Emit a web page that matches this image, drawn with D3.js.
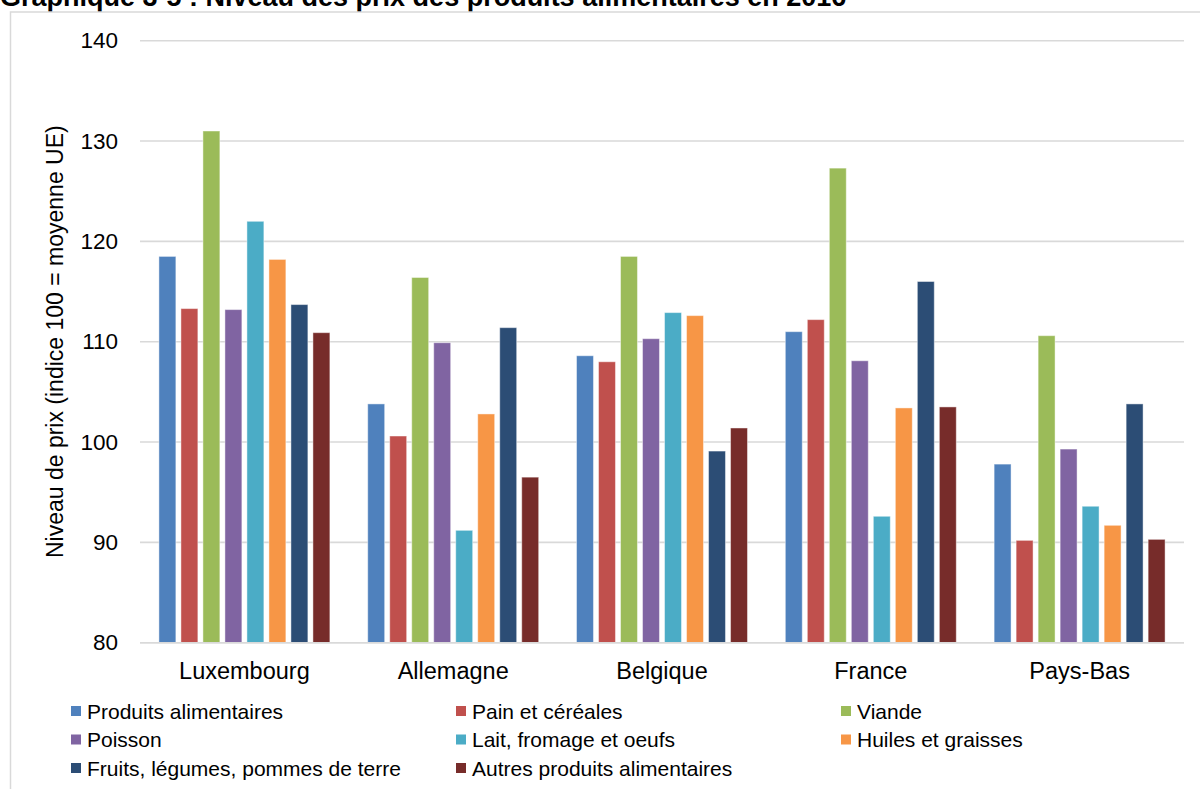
<!DOCTYPE html>
<html lang="fr">
<head>
<meta charset="utf-8">
<script src="https://cdn.jsdelivr.net/npm/d3@7"></script>
<style>
  html, body { margin: 0; padding: 0; background: #fff; }
  svg { display: block; font-family: "Liberation Sans", Arial, sans-serif; }
</style>
</head>
<body>
<svg id="chart" width="1200" height="789"></svg>
<script>
// Niveau des prix des produits alimentaires (indice 100 = moyenne UE)
const categories = ["Luxembourg", "Allemagne", "Belgique", "France", "Pays-Bas"];

const seriesNames = [
  "Produits alimentaires",
  "Pain et céréales",
  "Viande",
  "Poisson",
  "Lait, fromage et oeufs",
  "Huiles et graisses",
  "Fruits, légumes, pommes de terre",
  "Autres produits alimentaires"
];

const produitsAlimentaires = [118.5, 103.8, 108.6, 111.0, 97.8];
const painCereales        = [113.3, 100.6, 108.0, 112.2, 90.2];
const viande              = [131.0, 116.4, 118.5, 127.3, 110.6];
const poisson             = [113.2, 109.9, 110.3, 108.1, 99.3];
const laitFromageOeufs    = [122.0, 91.2, 112.9, 92.6, 93.6];
const huilesGraisses      = [118.2, 102.8, 112.6, 103.4, 91.7];
const fruitsLegumes       = [113.7, 111.4, 99.1, 116.0, 103.8];
const autresProduits      = [110.9, 96.5, 101.4, 103.5, 90.3];

const yTicks = [80, 90, 100, 110, 120, 130, 140];

const colors = ["#4F81BD", "#C0504D", "#9BBB59", "#8064A2",
                "#4BACC6", "#F79646", "#2C4D75", "#772C2A"];

const seriesValues = [produitsAlimentaires, painCereales, viande, poisson,
                      laitFromageOeufs, huilesGraisses, fruitsLegumes, autresProduits];

const table = categories.map((c, i) => ({
  category: c,
  values: seriesNames.map((s, j) => ({ series: s, value: seriesValues[j][i], color: colors[j] }))
}));

const svg = d3.select("#chart");

// Title (partly above the visible area)
svg.append("text")
  .attr("x", 0).attr("y", 6)
  .attr("font-size", 27).attr("font-weight", "bold").attr("fill", "#000")
  .text("Graphique 3-5 : Niveau des prix des produits alimentaires en 2016");

// Chart frame
svg.append("rect")
  .attr("x", 10.5).attr("y", 12).attr("width", 1200).attr("height", 800)
  .attr("fill", "none").attr("stroke", "#d9d9d9").attr("stroke-width", 1.5);

const plot = { left: 140, right: 1184, top: 40.7, bottom: 642.7 };

const y = d3.scaleLinear().domain([80, 140]).range([plot.bottom, plot.top]);
const x0 = d3.scaleBand().domain(categories).range([plot.left, plot.right]).padding(0);
const x1 = d3.scaleBand().domain(seriesNames).range([0, x0.bandwidth()])
  .paddingInner(0.23).paddingOuter(0.86);

// Gridlines
const grid = svg.append("g");
grid.selectAll("line").data(yTicks).join("line")
  .attr("x1", plot.left).attr("x2", plot.right)
  .attr("y1", d => y(d)).attr("y2", d => y(d))
  .attr("stroke", "#d9d9d9").attr("stroke-width", 1.6);

// Y axis labels
const yAxis = svg.append("g")
  .attr("transform", `translate(${plot.left},0)`)
  .call(d3.axisLeft(y).tickValues(yTicks).tickSize(0).tickPadding(22));
yAxis.select(".domain").remove();
yAxis.selectAll("text")
  .attr("font-size", 22.5).attr("fill", "#000")
  .attr("font-family", "Liberation Sans, Arial, sans-serif");

// Bars
const groups = svg.append("g").selectAll("g").data(table).join("g")
  .attr("transform", d => `translate(${x0(d.category)},0)`);
groups.selectAll("rect").data(d => d.values).join("rect")
  .attr("x", d => x1(d.series))
  .attr("width", x1.bandwidth())
  .attr("y", d => y(d.value))
  .attr("height", d => y(80) - y(d.value))
  .attr("fill", d => d.color)
  .attr("stroke", "#ffffff").attr("stroke-opacity", 0.45).attr("stroke-width", 1);

// Base line at 80 drawn over the bars
svg.append("line")
  .attr("x1", plot.left).attr("x2", plot.right)
  .attr("y1", y(80)).attr("y2", y(80))
  .attr("stroke", "#d9d9d9").attr("stroke-width", 1.6);

// X axis labels
const xAxis = svg.append("g")
  .attr("transform", `translate(0,${plot.bottom})`)
  .call(d3.axisBottom(x0).tickSize(0).tickPadding(20));
xAxis.select(".domain").remove();
xAxis.selectAll("text")
  .attr("font-size", 23.5).attr("fill", "#000")
  .attr("font-family", "Liberation Sans, Arial, sans-serif");

// Y axis title
svg.append("text")
  .attr("transform", `translate(63,${(plot.top + plot.bottom) / 2}) rotate(-90)`)
  .attr("text-anchor", "middle")
  .attr("font-size", 23).attr("fill", "#000")
  .text("Niveau de prix (indice 100 = moyenne UE)");

// Legend: three columns
const legend = svg.append("g");
const items = legend.selectAll("g").data(seriesNames).join("g")
  .attr("transform", (d, i) => `translate(${71 + (i % 3) * 385},${711 + Math.floor(i / 3) * 28.5})`);
items.append("rect")
  .attr("x", 0).attr("y", -5).attr("width", 10).attr("height", 10)
  .attr("fill", (d, i) => colors[i]);
items.append("text")
  .attr("x", 16).attr("y", 0).attr("dy", "0.36em")
  .attr("font-size", 21).attr("fill", "#000")
  .text(d => d);
</script>
</body>
</html>
